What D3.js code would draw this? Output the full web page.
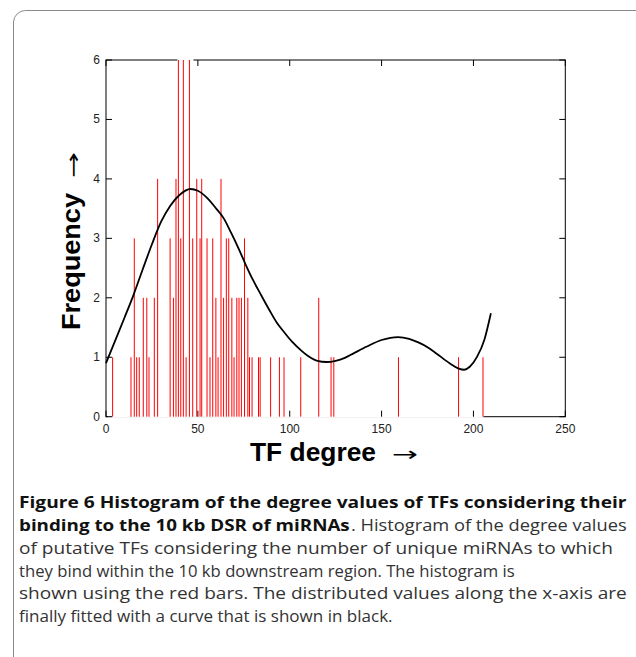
<!DOCTYPE html>
<html>
<head>
<meta charset="utf-8">
<script src="https://cdn.jsdelivr.net/npm/d3@7"></script>
<style>
  body { margin: 0; background: #fff; }
  svg { display: block; }
</style>
</head>
<body>
<svg id="canvas" width="636" height="657"></svg>
<script>
// histogram bins: degree (bin centre) and frequency
let binDegree = [3.6, 13.6, 15.4, 16.7, 18.1, 20.3, 22.2, 23.4, 26.3, 28.1,
                 34.9, 36.7, 38.1, 39.4, 40.7, 42.1, 43.6, 45.4, 47.2, 49.4,
                 51.2, 52.1, 55.0, 56.6, 58.1, 59.8, 61.0, 62.6, 64.0, 65.5,
                 66.8, 68.5, 69.7, 71.2, 72.4, 73.7, 75.4, 77.2, 78.1, 79.5,
                 83.0, 83.9, 89.6, 94.4, 96.9, 106.0, 115.8, 122.5, 124.0, 159.2,
                 191.9, 205.2]
let binCount  = [1, 1, 3, 1, 1, 2, 2, 1, 2, 4,
                 3, 2, 4, 6, 3, 6, 1, 6, 3, 4,
                 3, 4, 3, 1, 3, 2, 1, 4, 2, 3,
                 3, 2, 1, 2, 2, 2, 3, 2, 1, 1,
                 1, 1, 1, 1, 1, 1, 2, 1, 1, 1,
                 1, 1]
// range covered by the histogram bins
let binRange = [1, 205.5]

// fitted curve
let curveDegree = [0, 5, 10, 15, 20, 25, 30, 35, 40, 46, 50, 55, 60, 64, 68, 72, 76, 80, 84, 89,
                   93, 97, 101, 106, 110, 115, 120, 125, 130, 135, 142, 150, 159, 165, 170, 175,
                   180, 187, 192, 195, 198, 202, 206, 209.5]
let curveFreq   = [0.90, 1.28, 1.66, 2.05, 2.48, 2.90, 3.28, 3.55, 3.73, 3.83, 3.80, 3.68, 3.50, 3.34, 3.10, 2.84, 2.56, 2.30, 2.07, 1.79,
                   1.58, 1.42, 1.27, 1.12, 1.02, 0.94, 0.92, 0.94, 0.99, 1.07, 1.18, 1.29, 1.34, 1.31, 1.25, 1.17,
                   1.06, 0.90, 0.81, 0.79, 0.84, 1.01, 1.30, 1.74]

let xTicks = [0, 50, 100, 150, 200, 250]
let yTicks = [0, 1, 2, 3, 4, 5, 6]

// caption lines: text, bold?, line number
let captionLines = ['Figure 6 Histogram of the degree values of TFs considering their',
                    'binding to the 10 kb DSR of miRNAs',
                    '. Histogram of the degree values',
                    'of putative TFs considering the number of unique miRNAs to which',
                    'they bind within the 10 kb downstream region. The histogram is',
                    'shown using the red bars. The distributed values along the x-axis are',
                    'finally fitted with a curve that is shown in black.']
let captionBold = [true, true, false, false, false, false, false]
let captionRow  = [0, 1, 1, 2, 3, 4, 5]

let canvas = d3.select('#canvas')

let plotLeft = 106, plotRight = 565.3, plotTop = 60, plotBottom = 416.7

let xScale = d3.scaleLinear().domain([0, 250]).range([plotLeft, plotRight])
let yScale = d3.scaleLinear().domain([0, 6]).range([plotBottom, plotTop])

// outer frame of the figure panel
canvas.append('path')
      .attr('d', 'M13.5,657 V22 A12,12 0 0 1 25.5,10.5 H636')
      .attr('fill', 'none')
      .attr('stroke', '#8a8a8a')
      .attr('stroke-width', 1)

// axes box
canvas.append('rect')
      .attr('x', plotLeft).attr('y', plotTop)
      .attr('width', plotRight - plotLeft).attr('height', plotBottom - plotTop)
      .attr('fill', 'none')
      .attr('stroke', '#000')
      .attr('stroke-width', 1)

// bar faces hide the axis line under the histogram
canvas.append('line')
      .attr('x1', xScale(binRange[0])).attr('x2', xScale(binRange[1]))
      .attr('y1', plotBottom).attr('y2', plotBottom)
      .attr('stroke', '#fff').attr('stroke-width', 2)

let maxBins = binDegree.filter((d, i) => binCount[i] === 6)
canvas.append('line')
      .attr('x1', xScale(d3.min(maxBins)) - 1).attr('x2', xScale(d3.max(maxBins)) + 4)
      .attr('y1', plotTop).attr('y2', plotTop)
      .attr('stroke', '#fff').attr('stroke-width', 2)

// tick marks (inward, on all four sides)
let tickLen = 6
let ticks = canvas.append('g').attr('stroke', '#000').attr('stroke-width', 1)
xTicks.forEach(t => {
  ticks.append('line').attr('x1', xScale(t)).attr('x2', xScale(t))
       .attr('y1', plotBottom).attr('y2', plotBottom - tickLen)
  ticks.append('line').attr('x1', xScale(t)).attr('x2', xScale(t))
       .attr('y1', plotTop).attr('y2', plotTop + tickLen)
})
yTicks.forEach(t => {
  ticks.append('line').attr('x1', plotLeft).attr('x2', plotLeft + tickLen)
       .attr('y1', yScale(t)).attr('y2', yScale(t))
  ticks.append('line').attr('x1', plotRight).attr('x2', plotRight - tickLen)
       .attr('y1', yScale(t)).attr('y2', yScale(t))
})

// histogram bars
canvas.append('g')
      .selectAll('line')
      .data(binDegree)
      .enter()
      .append('line')
      .attr('x1', d => xScale(d))
      .attr('x2', d => xScale(d))
      .attr('y1', yScale(0))
      .attr('y2', (d, i) => yScale(binCount[i]))
      .attr('stroke', '#ff0000')
      .attr('stroke-width', 1)

// fitted curve
let curvePoints = curveDegree.map((d, i) => [d, curveFreq[i]])
canvas.append('path')
      .datum(curvePoints)
      .attr('d', d3.line()
                   .x(d => xScale(d[0]))
                   .y(d => yScale(d[1]))
                   .curve(d3.curveMonotoneX))
      .attr('fill', 'none')
      .attr('stroke', '#000')
      .attr('stroke-width', 1.8)

// tick labels
let tickFont = 'Liberation Sans, Arial, sans-serif'
canvas.append('g')
      .selectAll('text')
      .data(xTicks)
      .enter()
      .append('text')
      .attr('x', d => xScale(d))
      .attr('y', 433)
      .attr('text-anchor', 'middle')
      .attr('font-family', tickFont)
      .attr('font-size', 12)
      .attr('fill', '#222')
      .text(d => d)

canvas.append('g')
      .selectAll('text')
      .data(yTicks)
      .enter()
      .append('text')
      .attr('x', plotLeft - 6)
      .attr('y', d => yScale(d) + 4)
      .attr('text-anchor', 'end')
      .attr('font-family', tickFont)
      .attr('font-size', 12)
      .attr('fill', '#222')
      .text(d => d)

// axis titles
canvas.append('text')
      .attr('x', 250).attr('y', 461)
      .attr('font-family', tickFont)
      .attr('font-weight', 'bold')
      .attr('font-size', 25)
      .attr('textLength', 126)
      .attr('lengthAdjust', 'spacingAndGlyphs')
      .text('TF degree')
canvas.append('text')
      .attr('x', 392).attr('y', 461)
      .attr('font-family', 'DejaVu Sans, sans-serif')
      .attr('font-size', 20)
      .attr('textLength', 26)
      .attr('lengthAdjust', 'spacingAndGlyphs')
      .text('\u2192')

canvas.append('text')
      .attr('transform', 'translate(80,330) rotate(-90)')
      .attr('font-family', tickFont)
      .attr('font-weight', 'bold')
      .attr('font-size', 26)
      .attr('textLength', 137)
      .attr('lengthAdjust', 'spacingAndGlyphs')
      .text('Frequency')
canvas.append('text')
      .attr('transform', 'translate(80,178) rotate(-90)')
      .attr('font-family', 'DejaVu Sans, sans-serif')
      .attr('font-size', 20)
      .attr('textLength', 26)
      .attr('lengthAdjust', 'spacingAndGlyphs')
      .text('\u2192')

// caption: each line squeezed horizontally to the width it has in the figure
let capFont = 'Open Sans, Noto Sans, sans-serif'
let capBase = [508, 531, 554, 577, 599, 622]
let capX    = [19, 19, 351, 19, 19, 19, 19]
let capEnd  = [627, 350, 627, 613, 515, 627, 393]
captionLines.forEach((line, i) => {
  let g = canvas.append('g')
  let t = g.append('text')
           .attr('x', 0).attr('y', 0)
           .attr('font-family', capFont)
           .attr('font-weight', captionBold[i] ? 'bold' : 'normal')
           .attr('font-size', 16)
           .attr('fill', captionBold[i] ? '#111' : '#333')
           .text(line)
  let natural = t.node().getComputedTextLength()
  let sx = (capEnd[i] - capX[i]) / natural
  g.attr('transform', `translate(${capX[i]},${capBase[captionRow[i]]}) scale(${sx},1)`)
})
</script>
</body>
</html>
